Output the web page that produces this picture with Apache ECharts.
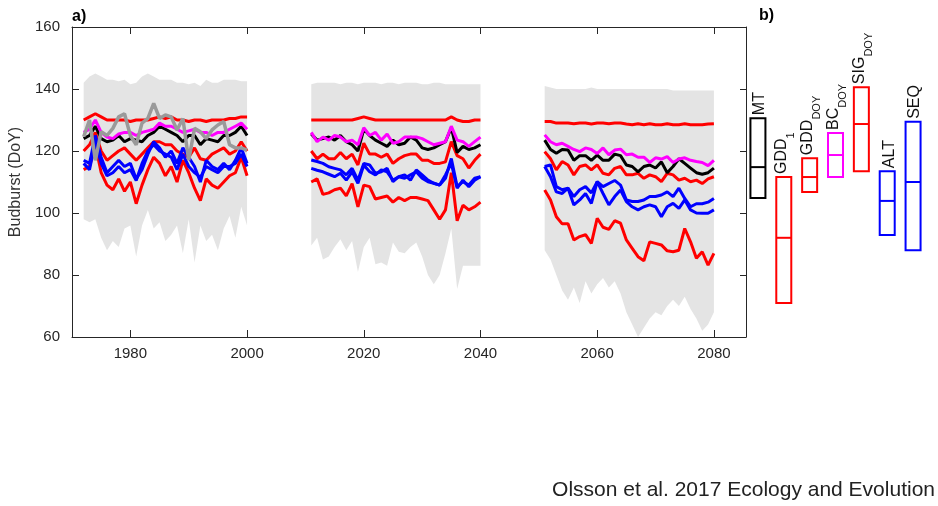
<!DOCTYPE html>
<html>
<head>
<meta charset="utf-8">
<script src="https://cdn.jsdelivr.net/npm/echarts@6/dist/echarts.min.js"></script>
<style>
  html, body { margin: 0; padding: 0; background: #fff; }
  #chart { width: 938px; height: 506px; }
</style>
</head>
<body>
<div id="chart"></div>
<script>
// years of the three simulation periods
function range(a, b) { const r = []; for (let y = a; y <= b; y++) r.push(y); return r; }
const yearsP1 = range(1972, 2000);
const yearsP2 = range(2011, 2040);
const yearsP3 = range(2051, 2080);

const xTicks = [1980, 2000, 2020, 2040, 2060, 2080];

// ensemble envelope (grey band), upper / lower per period
const bandUpper1 = [142, 144, 145, 144, 143, 143, 142.5, 143, 141.5, 142, 144, 145, 144, 143, 143, 143, 142, 142, 141.5, 142, 141, 143, 142, 142, 143, 143, 143, 142.5, 142.5];
const bandLower1 = [98, 97, 98, 92, 88, 91, 89, 95, 96, 86, 96, 101, 95, 97, 91, 93, 96, 87, 98, 84, 96, 91, 93, 88, 95, 99, 92, 102, 96];
const bandUpper2 = [141.5, 142, 142, 142, 142, 141.5, 142, 142, 141.5, 142, 142, 142, 141.5, 142, 142, 141.5, 142, 142, 142, 141.5, 141.5, 142, 142, 141.5, 141.5, 141.5, 141.5, 141.5, 141.5, 141.5];
const bandLower2 = [89.5, 92, 85, 86, 89, 91.5, 88, 91, 81, 89, 92, 83.5, 84, 83, 90.5, 87.5, 87, 89, 90.5, 86, 80, 77, 80, 87, 95, 75.5, 83, 83, 83, 83];
const bandUpper3 = [141, 140.5, 140, 140, 140, 140, 140, 140, 140.5, 140, 140, 140, 140, 140, 140, 140, 140, 140, 140, 140, 140, 140, 139.5, 139.5, 139.5, 139.5, 139.5, 139.5, 139.5, 139.5];
const bandLower3 = [88, 85, 80, 75, 72, 76, 71, 78, 74, 77, 79, 76, 78, 74, 68, 64, 60, 63, 66, 68, 67, 70, 72, 70, 73, 69, 66, 62, 64, 68];

// model series (budburst DoY)
const sigP1 = [130, 131, 132, 131, 130, 130, 130, 130, 129.5, 130, 130, 130, 130.5, 131, 130.5, 131, 130, 130, 129.5, 130, 130, 129.5, 130, 130, 130, 130.5, 130.5, 131, 131];
const sigP2 = [130, 130, 130, 130, 130, 130, 130, 130, 130.5, 131, 130.5, 130, 130, 130, 130, 130, 130, 130, 130, 130, 130, 130, 130, 130, 131, 130, 129.5, 129.5, 130, 130];
const sigP3 = [129.5, 129.5, 129, 129, 129, 128.8, 129, 129, 128.7, 129, 129, 128.8, 129, 129, 128.7, 128.5, 128.8, 128.5, 128.8, 128.5, 128.5, 128.8, 128.5, 128.5, 128.8, 128.5, 128.5, 128.5, 128.7, 128.8];

const bcP1 = [126, 127, 130, 126, 124.5, 124, 125.5, 126, 126, 125, 126, 126.5, 127, 129, 128, 128, 127, 126, 126.5, 127, 126, 126, 125, 126, 126, 127, 128, 129, 127];
const bcP2 = [126, 123, 124.5, 123.5, 125, 124.5, 123, 123.5, 122, 127.5, 125, 126, 123.5, 125.5, 122.5, 123, 124.5, 124.5, 124.5, 124, 123, 122, 122.5, 123, 128, 123.5, 123, 121.5, 123, 124.5];
const bcP3 = [125.2, 123, 122, 122.5, 121.5, 120.5, 119.8, 121, 120.5, 119.2, 121, 118.8, 120.3, 120.6, 118.8, 119, 118, 118, 116.3, 117.8, 117.4, 118.2, 116.3, 117.4, 117.8, 117, 116.6, 116.3, 115.3, 117];

const mtP1 = [124, 125, 128, 124, 123, 123.5, 125, 123, 124, 123.5, 123, 125, 126, 128, 127, 126, 125, 123, 125, 125, 122, 124, 123.5, 123, 125, 125, 126, 128, 125];
const mtP2 = [125.5, 123.5, 124, 124.5, 123.5, 125, 123, 122, 120, 127, 125, 123.5, 122.5, 121.5, 123.5, 122, 122.5, 124.5, 123.5, 121, 120.5, 121, 122, 123, 127.5, 119.5, 121.5, 120.5, 121, 122];
const mtP3 = [123.5, 120.5, 119.3, 120.5, 120.3, 117, 118.5, 118.5, 117, 118.7, 117, 117, 119, 118.5, 115.5, 115, 113.3, 115, 115.5, 114.5, 116.5, 113, 115, 117.5, 116, 114.5, 113, 112.5, 113, 114.5];

const gddDoyP1 = [120, 122, 126, 120, 117, 118.5, 120, 121, 119, 117, 119, 121, 123, 123, 122, 122, 120, 119, 118, 121, 117.5, 117, 119, 120, 121, 119, 120, 123, 120];
const gddDoyP2 = [120, 117.5, 119, 117.5, 117.5, 119.5, 117.5, 119, 115.5, 122.5, 119, 119, 118, 119, 116, 117.5, 118.5, 119, 119, 117, 117, 116, 116, 116.5, 123, 118.5, 117.5, 114.5, 117, 119];
const gddDoyP3 = [119.8, 117.5, 113.9, 116.6, 115.5, 112.3, 115, 115.5, 113.9, 115.5, 112.8, 112.3, 114.4, 115, 112.3, 112.3, 112.8, 111.2, 112.3, 111.7, 110.1, 112.8, 112.3, 110.6, 111.2, 110.1, 110.6, 109.5, 111, 111.7];

const altP1 = [117, 116, 125, 118, 113, 115, 117, 115, 116, 111, 114, 119, 123, 121, 118, 120, 116, 121, 118, 115, 110, 117, 115, 114, 116, 114, 117, 121, 116];
const altP2 = [117.1, 116.6, 116, 114.9, 114.4, 113.9, 112.3, 114.4, 110.6, 116, 115.5, 112.8, 113.3, 114.4, 110.1, 111.7, 112.3, 110.6, 113.9, 112.3, 110.6, 109.6, 109, 111.2, 117.6, 108.5, 110.1, 109, 111.2, 111.7];
const altP3 = [115, 115.5, 108.5, 107.5, 108, 105.3, 107.5, 108.5, 106.5, 110.1, 108.5, 109.5, 110.5, 109, 104.2, 103.7, 103.7, 104.2, 105.3, 105.3, 105.8, 106.8, 105.3, 108, 104.7, 102, 103, 103, 103.5, 104.7];

const seqP1 = [116, 114, 123, 116, 112, 113, 115, 113, 114, 110.5, 116, 120, 122, 120, 119, 118, 114, 119, 115, 113, 111.5, 115, 114, 113, 115, 115, 116, 119, 115];
const seqP2 = [114.4, 113.8, 113.3, 112.5, 111.7, 112.8, 110.6, 113.3, 109.6, 115.5, 113.3, 112.3, 113.9, 113.3, 110.6, 111.7, 111.2, 112.3, 113.3, 111.2, 110.1, 109.6, 109, 112.3, 116, 108, 110.6, 108.5, 110.6, 111.7];
const seqP3 = [115, 111.7, 106.8, 106.3, 108, 102.6, 104.2, 106.3, 103.1, 110.1, 106.3, 102.6, 105.3, 107.4, 103.7, 102, 101, 102, 102.6, 102, 98.8, 102, 103.1, 101.5, 104.2, 101, 100, 99.9, 99.9, 101];

const gdd1P1 = [114, 115, 122, 113, 109, 107.5, 111, 107, 110, 103, 109, 114, 118, 116, 112, 115, 110, 117, 113, 108, 104, 111, 109, 108, 110, 112, 113, 118, 112];
const gdd1P2 = [110, 111, 106, 106.5, 107.5, 108, 105.5, 109.5, 102, 109, 108.5, 104.5, 105, 105.5, 103.5, 105, 104, 105, 105, 104.5, 104, 101, 98, 101, 113, 97.5, 102.5, 101, 102, 103.5];
const gdd1P3 = [107.4, 104.2, 98.8, 96.5, 96.5, 91.3, 92.4, 93, 90.2, 98.3, 95.4, 94.7, 97.5, 96.7, 91.3, 88.6, 85.9, 84.6, 90.7, 90.2, 89.7, 87.8, 87.5, 88, 95, 90.7, 85.4, 87.5, 83.2, 87];

// observed budburst, first period only
const obsP1 = [124.6, 130, 117, 126.2, 125, 127.3, 131, 132, 125, 122, 129, 130.5, 135.4, 130.5, 131.6, 131, 126.8, 130.5, 117, 127.3, 126.2, 124, 126.8, 128.4, 129.5, 122, 121, 121, 120.3];

// panel b boxes: name, subscript, low, median, high
const boxNames = ['MT', 'GDD', 'GDD', 'BC', 'SIG', 'ALT', 'SEQ'];
const boxSubs = ['', '1', 'DOY', 'DOY', 'DOY', '', ''];
const boxLow = [104.8, 71, 106.8, 111.6, 113.5, 92.9, 88];
const boxMedian = [114.8, 92, 111.6, 118.7, 128.7, 103.9, 110];
const boxHigh = [130.6, 111.6, 117.7, 125.8, 140.6, 113.5, 129.4];
const boxColors = ['#000000', '#ff0000', '#ff0000', '#ff00ff', '#ff0000', '#0000ff', '#0000ff'];

const textColor = '#262626';
const font = 'Liberation Sans, Arial, sans-serif';

const chart = echarts.init(document.getElementById('chart'));

const periodYears = [yearsP1, yearsP2, yearsP3];
const bands = [[bandUpper1, bandLower1], [bandUpper2, bandLower2], [bandUpper3, bandLower3]];

function pairs(years, vals) {
    return years.map((y, i) => [y, vals[i]]);
}

function modelLines(name, color, width, periods) {
    return periods.map((vals, p) => ({
        name: name,
        type: 'line',
        xAxisIndex: 0,
        yAxisIndex: 0,
        symbol: 'none',
        silent: true,
        lineStyle: { color: color, width: width },
        data: pairs(periodYears[p], vals),
        z: 3
    }));
}

const series = [
    {
        type: 'custom',
        xAxisIndex: 0,
        yAxisIndex: 0,
        silent: true,
        z: 1,
        data: [[1972, 2000, 0], [2011, 2040, 1], [2051, 2080, 2]],
        encode: { x: [0, 1], y: -1 },
        renderItem: function (params, api) {
            const p = api.value(2);
            const years = periodYears[p];
            const up = bands[p][0];
            const lo = bands[p][1];
            const pts = [];
            years.forEach((y, i) => pts.push(api.coord([y, up[i]])));
            for (let i = years.length - 1; i >= 0; i--) pts.push(api.coord([years[i], lo[i]]));
            return {
                type: 'polygon',
                shape: { points: pts },
                style: { fill: '#e4e4e4', stroke: 'none' }
            };
        }
    },
    ...modelLines('SIG', '#ff0000', 3, [sigP1, sigP2, sigP3]),
    ...modelLines('GDDDOY', '#ff0000', 3, [gddDoyP1, gddDoyP2, gddDoyP3]),
    ...modelLines('GDD1', '#ff0000', 3, [gdd1P1, gdd1P2, gdd1P3]),
    ...modelLines('MT', '#000000', 3, [mtP1, mtP2, mtP3]),
    ...modelLines('BC', '#ff00ff', 3, [bcP1, bcP2, bcP3]),
    ...modelLines('ALT', '#0000ff', 3, [altP1, altP2, altP3]),
    ...modelLines('SEQ', '#0000ff', 3, [seqP1, seqP2, seqP3]),
    {
        name: 'observed',
        type: 'line',
        symbol: 'none',
        silent: true,
        lineStyle: { color: '#9a9a9a', width: 3.5 },
        data: pairs(yearsP1, obsP1),
        z: 4
    },
    {
        type: 'custom',
        xAxisIndex: 2,
        yAxisIndex: 2,
        silent: true,
        data: boxNames.map((n, i) => [i, boxLow[i], boxMedian[i], boxHigh[i]]),
        encode: { x: 0, y: [1, 2, 3] },
        renderItem: function (params, api) {
            const i = api.value(0);
            const top = api.coord([i, api.value(3)]);
            const bot = api.coord([i, api.value(1)]);
            const med = api.coord([i, api.value(2)]);
            const w = api.size([1, 0])[0] * 0.58;
            const c = boxColors[i];
            const hasSub = boxSubs[i] !== '';
            return {
                type: 'group',
                children: [
                    {
                        type: 'rect',
                        shape: { x: top[0] - w / 2, y: top[1], width: w, height: bot[1] - top[1] },
                        style: { fill: 'none', stroke: c, lineWidth: 2 }
                    },
                    {
                        type: 'line',
                        shape: { x1: top[0] - w / 2, y1: med[1], x2: top[0] + w / 2, y2: med[1] },
                        style: { stroke: c, lineWidth: 2 }
                    },
                    {
                        type: 'text',
                        x: top[0] + (hasSub ? -2 : 2),
                        y: top[1] - 3,
                        rotation: Math.PI / 2,
                        style: {
                            text: hasSub ? '{m|' + boxNames[i] + '}{s|' + boxSubs[i] + '}' : '{m|' + boxNames[i] + '}',
                            align: 'left',
                            verticalAlign: 'middle',
                            rich: {
                                m: { fontSize: 16, fontFamily: font, fill: '#111', verticalAlign: 'middle' },
                                s: { fontSize: 11, fontFamily: font, fill: '#111', verticalAlign: 'bottom', lineHeight: 30 }
                            }
                        }
                    }
                ]
            };
        }
    }
];

const axisLine = { show: true, onZero: false, lineStyle: { color: textColor, width: 1 } };

const option = {
    animation: false,
    backgroundColor: '#ffffff',
    textStyle: { fontFamily: font },
    grid: [
        { left: 72, top: 27, width: 674, height: 310 },
        { left: 745, top: 27, width: 181, height: 310 }
    ],
    xAxis: [
        {
            gridIndex: 0, type: 'value', min: 1970, max: 2085.5, position: 'bottom',
            axisLine: axisLine,
            axisTick: { inside: true, length: 7, customValues: xTicks, lineStyle: { color: textColor } },
            axisLabel: { customValues: xTicks, fontSize: 15, color: textColor, margin: 9, formatter: (v) => String(v) },
            splitLine: { show: false }
        },
        {
            gridIndex: 0, type: 'value', min: 1970, max: 2085.5, position: 'top',
            axisLine: axisLine,
            axisTick: { inside: true, length: 7, customValues: xTicks, lineStyle: { color: textColor } },
            axisLabel: { show: false },
            splitLine: { show: false }
        },
        { gridIndex: 1, type: 'category', data: boxNames, show: false }
    ],
    yAxis: [
        {
            gridIndex: 0, type: 'value', min: 60, max: 160, interval: 20, position: 'left',
            name: 'Budburst (DoY)', nameLocation: 'middle', nameGap: 43,
            nameTextStyle: { fontSize: 16, color: '#333' },
            axisLine: axisLine,
            axisTick: { inside: true, length: 7, lineStyle: { color: textColor } },
            axisLabel: { fontSize: 15, color: textColor, margin: 12 },
            splitLine: { show: false }
        },
        {
            gridIndex: 0, type: 'value', min: 60, max: 160, interval: 20, position: 'right',
            axisLine: axisLine,
            axisTick: { inside: true, length: 6, lineStyle: { color: textColor } },
            axisLabel: { show: false },
            splitLine: { show: false }
        },
        { gridIndex: 1, type: 'value', min: 60, max: 160, show: false }
    ],
    graphic: [
        { type: 'text', left: 72, top: 9, style: { text: 'a)', fontSize: 16, fontWeight: 'bold', fill: '#000', fontFamily: font } },
        { type: 'text', left: 759, top: 8, style: { text: 'b)', fontSize: 16, fontWeight: 'bold', fill: '#000', fontFamily: font } },
        { type: 'text', right: 3, top: 480, style: { text: 'Olsson et al. 2017 Ecology and Evolution', fontSize: 21, fill: '#222', fontFamily: font } }
    ],
    series: series
};

chart.setOption(option);
window.addEventListener('resize', () => chart.resize());
</script>
</body>
</html>
